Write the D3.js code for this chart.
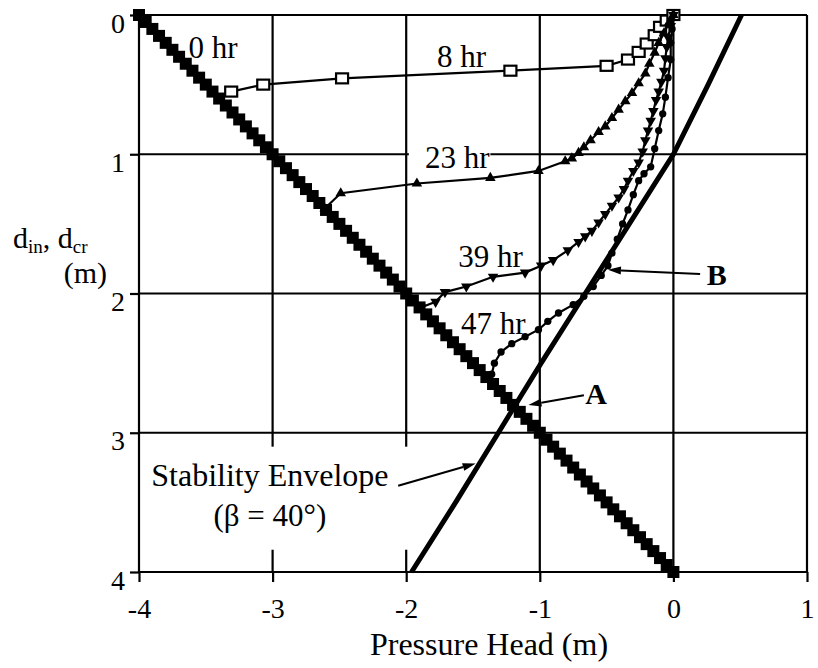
<!DOCTYPE html>
<html>
<head>
<meta charset="utf-8">
<script src="https://cdn.jsdelivr.net/npm/d3@7"></script>
<style>
  body { margin: 0; background: #fff; }
  svg { display: block; font-family: "Liberation Serif", "Times New Roman", serif; }
</style>
</head>
<body>
<svg id="chart" width="818" height="668"></svg>
<script>
// ---- data: [pressure head (m), depth (m)] ----
const hydroDepth = [
  0, 0.05, 0.1, 0.15, 0.2, 0.25, 0.3, 0.35, 0.4, 0.45,
  0.5, 0.55, 0.6, 0.65, 0.7, 0.75, 0.8, 0.85, 0.9, 0.95,
  1, 1.05, 1.1, 1.15, 1.2, 1.25, 1.3, 1.35, 1.4, 1.45,
  1.5, 1.55, 1.6, 1.65, 1.7, 1.75, 1.8, 1.85, 1.9, 1.95,
  2, 2.05, 2.1, 2.15, 2.2, 2.25, 2.3, 2.35, 2.4, 2.45,
  2.5, 2.55, 2.6, 2.65, 2.7, 2.75, 2.8, 2.85, 2.9, 2.95,
  3, 3.05, 3.1, 3.15, 3.2, 3.25, 3.3, 3.35, 3.4, 3.45,
  3.5, 3.55, 3.6, 3.65, 3.7, 3.75, 3.8, 3.85, 3.9, 3.95, 4
];
const hydroHead = [
  -4, -3.95, -3.9, -3.85, -3.8, -3.75, -3.7, -3.65, -3.6, -3.55,
  -3.5, -3.45, -3.4, -3.35, -3.3, -3.25, -3.2, -3.15, -3.1, -3.05,
  -3, -2.95, -2.9, -2.85, -2.8, -2.75, -2.7, -2.65, -2.6, -2.55,
  -2.5, -2.45, -2.4, -2.35, -2.3, -2.25, -2.2, -2.15, -2.1, -2.05,
  -2, -1.95, -1.9, -1.85, -1.8, -1.75, -1.7, -1.65, -1.6, -1.55,
  -1.5, -1.45, -1.4, -1.35, -1.3, -1.25, -1.2, -1.15, -1.1, -1.05,
  -1, -0.95, -0.9, -0.85, -0.8, -0.75, -0.7, -0.65, -0.6, -0.55,
  -0.5, -0.45, -0.4, -0.35, -0.3, -0.25, -0.2, -0.15, -0.1, -0.05, 0
];

const hr8 = [
  [-3.31, 0.55], [-3.07, 0.50], [-2.48, 0.455], [-1.22, 0.40], [-0.50, 0.365],
  [-0.34, 0.32], [-0.26, 0.265], [-0.20, 0.205], [-0.14, 0.145], [-0.10, 0.085],
  [-0.05, 0.04], [0, 0]
];
const hr23 = [
  [0, 0], [-0.03, 0.05], [-0.07, 0.13], [-0.11, 0.20], [-0.14, 0.27], [-0.18, 0.35],
  [-0.21, 0.42], [-0.26, 0.49], [-0.31, 0.56], [-0.36, 0.62], [-0.41, 0.68],
  [-0.46, 0.74], [-0.51, 0.80], [-0.56, 0.84], [-0.62, 0.90], [-0.67, 0.95],
  [-0.71, 0.99], [-0.76, 1.03], [-0.81, 1.05], [-1.01, 1.12], [-1.37, 1.17],
  [-1.92, 1.21], [-2.49, 1.28], [-2.61, 1.39]
];
const hr39 = [
  [0, 0], [-0.02, 0.08], [-0.04, 0.16], [-0.05, 0.23], [-0.06, 0.31], [-0.07, 0.40],
  [-0.09, 0.48], [-0.11, 0.55], [-0.13, 0.61], [-0.15, 0.69], [-0.17, 0.76],
  [-0.19, 0.83], [-0.21, 0.90], [-0.23, 0.98], [-0.26, 1.06], [-0.30, 1.12],
  [-0.34, 1.19], [-0.37, 1.25], [-0.41, 1.31], [-0.46, 1.37], [-0.51, 1.43],
  [-0.56, 1.49], [-0.61, 1.55], [-0.66, 1.59], [-0.71, 1.63], [-0.79, 1.69],
  [-0.90, 1.76], [-0.99, 1.80], [-1.11, 1.85], [-1.35, 1.88], [-1.55, 1.95],
  [-1.71, 1.99], [-1.78, 2.06], [-1.89, 2.10]
];
const hr47 = [
  [0, 0], [-0.01, 0.10], [-0.02, 0.20], [-0.02, 0.32], [-0.04, 0.45], [-0.06, 0.59],
  [-0.08, 0.71], [-0.11, 0.83], [-0.14, 0.96], [-0.17, 1.09], [-0.22, 1.14],
  [-0.26, 1.19], [-0.30, 1.29], [-0.34, 1.40], [-0.38, 1.50], [-0.42, 1.61],
  [-0.46, 1.71], [-0.49, 1.80], [-0.54, 1.87], [-0.60, 1.95], [-0.67, 2.02],
  [-0.75, 2.08], [-0.86, 2.14], [-0.94, 2.20], [-1.01, 2.26], [-1.11, 2.31],
  [-1.21, 2.36], [-1.29, 2.42], [-1.34, 2.50], [-1.36, 2.58]
];
const envelope = [
  [0.51, 0], [0.26, 0.5], [0, 1], [-0.33, 1.5], [-0.66, 2], [-0.99, 2.5],
  [-1.31, 3], [-1.63, 3.5], [-1.96, 4]
];

const xTicks = [-4, -3, -2, -1, 0, 1];
const yTicks = [0, 1, 2, 3, 4];

const svg = d3.select('#chart');
const x = d3.scaleLinear().domain([-4, 1]).range([139, 807]);
const y = d3.scaleLinear().domain([0, 4]).range([15, 572]);

// grid lines
const grid = svg.append('g').attr('stroke', '#000').attr('stroke-width', 2.2);
grid.selectAll('.vg').data(xTicks).join('line')
  .attr('x1', d => x(d)).attr('x2', d => x(d))
  .attr('y1', y(0)).attr('y2', y(4));
grid.selectAll('.hg').data(yTicks).join('line')
  .attr('y1', d => y(d)).attr('y2', d => y(d))
  .attr('x1', x(-4)).attr('x2', x(1));

// axes (outer ticks + labels)
const xAxis = svg.append('g')
  .attr('transform', `translate(0,${y(4)})`)
  .call(d3.axisBottom(x).tickValues(xTicks).tickSize(10).tickFormat(d => String(d)));
xAxis.select('.domain').remove();
xAxis.selectAll('line').attr('stroke', '#000').attr('stroke-width', 2.2);
xAxis.selectAll('text').attr('y', 46).attr('dy', null)
  .attr('font-size', 28).attr('fill', '#000').attr('font-family', 'Liberation Serif');

const yAxis = svg.append('g')
  .attr('transform', `translate(${x(-4)},0)`)
  .call(d3.axisLeft(y).tickValues(yTicks).tickSize(9).tickFormat(d => String(d)));
yAxis.select('.domain').remove();
yAxis.selectAll('line').attr('stroke', '#000').attr('stroke-width', 2.2);
yAxis.selectAll('text').attr('x', -14).attr('y', 17).attr('dy', null)
  .attr('font-size', 28).attr('fill', '#000').attr('font-family', 'Liberation Serif');

// white label boxes that hide the grid behind them
svg.append('rect')
  .attr('x', x(-3.98)).attr('y', y(3.10))
  .attr('width', x(-1.95) - x(-3.98)).attr('height', y(3.84) - y(3.10))
  .attr('fill', '#fff');
svg.append('rect')
  .attr('x', x(-1.98)).attr('y', y(0.92))
  .attr('width', x(-1.37) - x(-1.98)).attr('height', y(1.11) - y(0.92))
  .attr('fill', '#fff');

const line = d3.line().x(d => x(d[0])).y(d => y(d[1]));

// stability envelope
svg.append('path').datum(envelope)
  .attr('d', line).attr('fill', 'none')
  .attr('stroke', '#000').attr('stroke-width', 5);

// 0 hr hydrostatic profile
const hydro = hydroDepth.map((d, i) => [hydroHead[i], d]);
svg.append('g').selectAll('rect').data(hydro).join('rect')
  .attr('x', d => x(d[0]) - 6).attr('y', d => y(d[1]) - 6)
  .attr('width', 12).attr('height', 12).attr('fill', '#000');

// transient profiles
function drawSeries(data, symbolFn) {
  svg.append('path').datum(data)
    .attr('d', line).attr('fill', 'none')
    .attr('stroke', '#000').attr('stroke-width', 2.2);
  const g = svg.append('g');
  data.forEach(d => symbolFn(g, x(d[0]), y(d[1])));
}

drawSeries(hr8, (g, px, py) => g.append('rect')
  .attr('x', px - 6).attr('y', py - 5).attr('width', 12).attr('height', 10)
  .attr('fill', '#fff').attr('stroke', '#000').attr('stroke-width', 2.2));

drawSeries(hr23, (g, px, py) => g.append('path')
  .attr('d', d3.symbol(d3.symbolTriangle, 48)())
  .attr('transform', `translate(${px},${py})`).attr('fill', '#000'));

drawSeries(hr39, (g, px, py) => g.append('path')
  .attr('d', d3.symbol(d3.symbolTriangle, 48)())
  .attr('transform', `translate(${px},${py}) rotate(180)`).attr('fill', '#000'));

drawSeries(hr47, (g, px, py) => g.append('path')
  .attr('d', d3.symbol(d3.symbolCircle, 42)())
  .attr('transform', `translate(${px},${py})`).attr('fill', '#000'));

// annotations
const labels = [
  { t: '0 hr', h: -3.63, d: 0.31 },
  { t: '8 hr', h: -1.77, d: 0.37 },
  { t: '23 hr', h: -1.86, d: 1.10 },
  { t: '39 hr', h: -1.61, d: 1.81 },
  { t: '47 hr', h: -1.59, d: 2.29 }
];
svg.append('g').selectAll('text').data(labels).join('text')
  .attr('x', d => x(d.h)).attr('y', d => y(d.d))
  .attr('font-size', 31).text(d => d.t);

svg.append('text').attr('x', x(0.25)).attr('y', y(1.94))
  .attr('font-size', 30).attr('font-weight', 'bold').text('B');
svg.append('text').attr('x', x(-0.66)).attr('y', y(2.79))
  .attr('font-size', 30).attr('font-weight', 'bold').text('A');

svg.append('text').attr('x', x(-3.02)).attr('y', y(3.38))
  .attr('text-anchor', 'middle').attr('font-size', 32).text('Stability Envelope');
svg.append('text').attr('x', x(-3.02)).attr('y', y(3.67))
  .attr('text-anchor', 'middle').attr('font-size', 31).text('(\u03B2 = 40\u00B0)');

function arrow(from, to) {
  const x0 = x(from[0]), y0 = y(from[1]), x1 = x(to[0]), y1 = y(to[1]);
  const a = Math.atan2(y1 - y0, x1 - x0);
  const len = 13, hw = 4;
  const bx = x1 - len * Math.cos(a), by = y1 - len * Math.sin(a);
  svg.append('line').attr('x1', x0).attr('y1', y0).attr('x2', bx).attr('y2', by)
    .attr('stroke', '#000').attr('stroke-width', 2);
  svg.append('path')
    .attr('d', `M${x1},${y1}L${bx + hw * Math.sin(a)},${by - hw * Math.cos(a)}L${bx - hw * Math.sin(a)},${by + hw * Math.cos(a)}Z`)
    .attr('fill', '#000');
}
arrow([0.20, 1.86], [-0.49, 1.83]);
arrow([-0.67, 2.73], [-1.085, 2.80]);
arrow([-2.06, 3.38], [-1.48, 3.22]);

// axis titles
svg.append('text').attr('x', 489).attr('y', 655)
  .attr('text-anchor', 'middle').attr('font-size', 32).text('Pressure Head (m)');

const yt = svg.append('text').attr('x', 13).attr('y', 248).attr('font-size', 30);
yt.append('tspan').text('d');
yt.append('tspan').attr('font-size', 19).attr('dy', 5).text('in');
yt.append('tspan').attr('dy', -5).text(', d');
yt.append('tspan').attr('font-size', 19).attr('dy', 5).text('cr');
svg.append('text').attr('x', 107).attr('y', 283)
  .attr('text-anchor', 'end').attr('font-size', 30).text('(m)');
</script>
</body>
</html>
